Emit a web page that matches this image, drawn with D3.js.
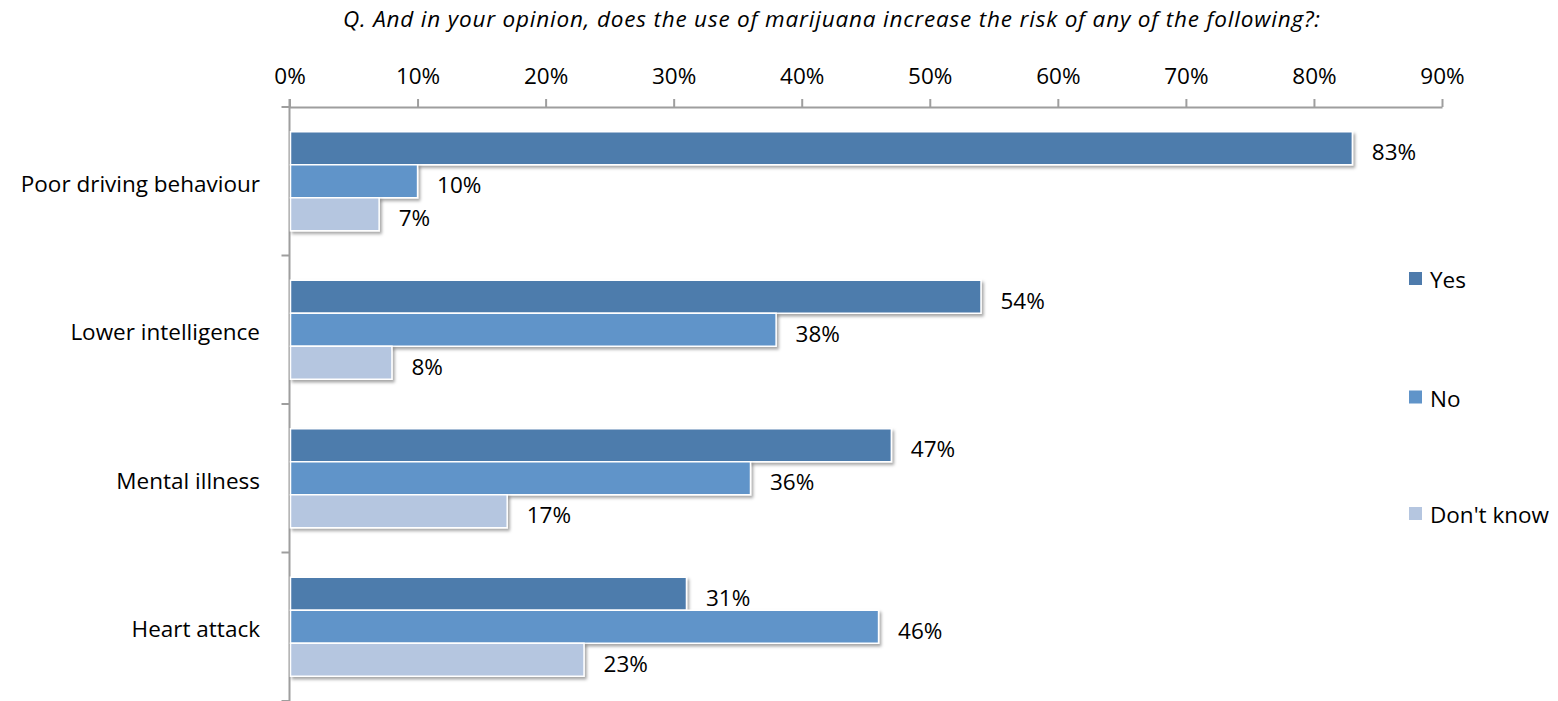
<!DOCTYPE html>
<html><head><meta charset="utf-8">
<script src="https://cdn.jsdelivr.net/npm/d3@7"></script>
<style>
html,body{margin:0;padding:0;background:#fff;}
svg text{font-family:"Open Sans",sans-serif;fill:#000;}
</style></head>
<body>
<svg id="chart" width="1558" height="701"></svg>
<script>
const categories = ["Poor driving behaviour","Lower intelligence","Mental illness","Heart attack"];
const seriesNames = ["Yes","No","Don't know"];
const yesValues = [83,54,47,31];
const noValues = [10,38,36,46];
const dontKnowValues = [7,8,17,23];
const tickValues = [0,10,20,30,40,50,60,70,80,90];
const title = "Q. And in your opinion, does the use of marijuana increase the risk of any of the following?:";
const colors = ["#4e7bac","#6094c9","#b5c6e0"];

const series = [yesValues, noValues, dontKnowValues];
const svg = d3.select("#chart");
const plotLeft = 289.5, plotRight = 1442, plotTop = 107, plotBottom = 701;
const FS = 22.5;

const defs = svg.append("defs");
const f = defs.append("filter").attr("id","shadow").attr("x","-5%").attr("y","-20%").attr("width","120%").attr("height","160%");
f.append("feDropShadow").attr("dx",2).attr("dy",2.5).attr("stdDeviation",1.6).attr("flood-color","#000").attr("flood-opacity",0.35);

const x = d3.scaleLinear().domain([0,90]).range([plotLeft,plotRight]);
const y = d3.scaleBand().domain(categories).range([plotTop,plotBottom]).paddingInner(0).paddingOuter(0);
const inner = d3.scaleBand().domain(seriesNames).range([0,y.bandwidth()]).paddingInner(0).paddingOuter(0.75);

// title
svg.append("text").attr("x",343).attr("y",27).attr("text-anchor","start")
  .attr("font-style","italic").attr("font-size",22.5)
  .attr("textLength",977).attr("lengthAdjust","spacing").text(title);

// top axis
const xAxis = d3.axisTop(x).tickValues(tickValues).tickFormat(d=>d+"%").tickSize(8).tickSizeOuter(0);
const gx = svg.append("g").attr("transform",`translate(0,${plotTop})`).call(xAxis);
gx.select(".domain").attr("stroke","#9e9e9e").attr("stroke-width",2);
gx.selectAll(".tick line").attr("stroke","#9e9e9e").attr("stroke-width",2);
gx.selectAll(".tick text").attr("font-size",FS).attr("y",-23).attr("dy",0).attr("fill","#000")
  .style("font-family","'Open Sans',sans-serif");

// left axis with ticks at category boundaries
const boundaries = categories.map(c=>y(c)).concat([plotBottom]);
svg.append("line").attr("x1",plotLeft).attr("x2",plotLeft).attr("y1",plotTop-8).attr("y2",plotBottom)
  .attr("stroke","#9e9e9e").attr("stroke-width",2);
svg.selectAll(".ytick").data(boundaries).join("line").attr("class","ytick")
  .attr("x1",plotLeft-8).attr("x2",plotLeft).attr("y1",d=>d).attr("y2",d=>d)
  .attr("stroke","#9e9e9e").attr("stroke-width",2);

// category labels
svg.selectAll(".cat").data(categories).join("text").attr("class","cat")
  .attr("x",260).attr("y",d=>y(d)+y.bandwidth()/2+10.5).attr("text-anchor","end")
  .attr("font-size",FS).text(d=>d);

// bars
const data = [];
categories.forEach((c,i)=>seriesNames.forEach((s,j)=>data.push({c,s,j,v:series[j][i]})));
const g = svg.append("g");
g.selectAll("rect").data(data).join("rect")
  .attr("x",x(0)+1).attr("y",d=>y(d.c)+inner(d.s))
  .attr("width",d=>x(d.v)-x(0)-1).attr("height",inner.bandwidth())
  .attr("fill",d=>colors[d.j]).attr("stroke","#fff").attr("stroke-width",1.5)
  .attr("filter","url(#shadow)");

// value labels
svg.selectAll(".val").data(data).join("text").attr("class","val")
  .attr("x",d=>x(d.v)+19.5).attr("y",d=>y(d.c)+inner(d.s)+inner.bandwidth()/2+12)
  .attr("font-size",FS).text(d=>d.v+"%");

// legend
const legY = [288,406.5,523];
const lg = svg.selectAll(".leg").data(seriesNames).join("g").attr("class","leg")
  .attr("transform",(d,i)=>`translate(1409,${legY[i]})`);
lg.append("rect").attr("x",0).attr("y",-16).attr("width",13).attr("height",13).attr("fill",(d,i)=>colors[i]);
lg.append("text").attr("x",21).attr("y",0).attr("font-size",FS).text(d=>d);
</script>
</body></html>
